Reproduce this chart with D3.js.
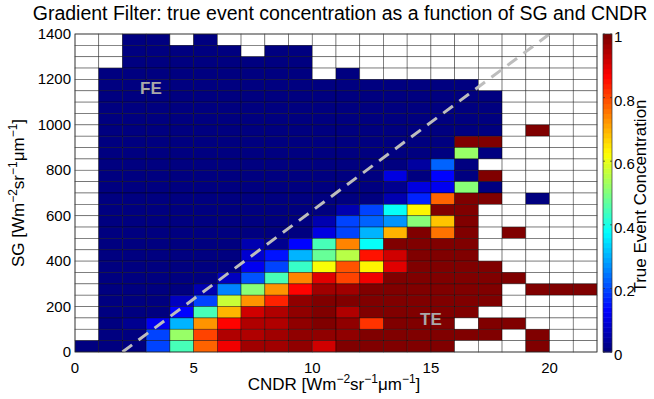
<!DOCTYPE html>
<html>
<head>
<meta charset="utf-8">
<script src="https://cdn.jsdelivr.net/npm/d3@7"></script>
<style>
  body { margin: 0; background: #fff; }
  text { font-family: "Liberation Sans", Arial, sans-serif; fill: #000; }
</style>
</head>
<body>
<div id="chart"></div>
<script>
// CNDR bins (width 1) and SG bins (width 50)
const cndrEdges = d3.range(0, 23);
const sgEdges = d3.range(0, 1450, 50);

const xTicks = [0, 5, 10, 15, 20];
const yTicks = [0, 200, 400, 600, 800, 1000, 1200, 1400];
const cbTicks = [0, 0.2, 0.4, 0.6, 0.8, 1];

// True event concentration, one row per SG bin, top row = 1350-1400
const n = null;
const concRows = [
  [n, n, 0, 0, n, 0, n, n, n, n, n, n, n, n, n, n, n, n, n, n, n, n],
  [n, n, 0, 0, 0, 0, 0, n, 0, 0, n, n, n, n, n, n, n, n, n, n, n, n],
  [n, n, 0, 0, 0, 0, 0, 0, 0, 0, n, n, n, n, n, n, n, n, n, n, n, n],
  [n, 0, 0, 0, 0, 0, 0, 0, 0, 0, n, 0, n, n, n, n, n, n, n, n, n, n],
  [n, 0, 0, 0, 0, 0, 0, 0, 0, 0, 0, 0, 0, 0, 0, 0, 0, n, n, n, n, n],
  [n, 0, 0, 0, 0, 0, 0, 0, 0, 0, 0, 0, 0, 0, 0, 0, 0, 0, n, n, n, n],
  [n, 0, 0, 0, 0, 0, 0, 0, 0, 0, 0, 0, 0, 0, 0, 0, 0, 0, n, n, n, n],
  [n, 0, 0, 0, 0, 0, 0, 0, 0, 0, 0, 0, 0, 0, 0, 0, 0, 0, n, n, n, n],
  [n, 0, 0, 0, 0, 0, 0, 0, 0, 0, 0, 0, 0, 0, 0, 0, 0, 0, n, 1, n, n],
  [n, 0, 0, 0, 0, 0, 0, 0, 0, 0, 0, 0, 0, 0, 0, 0, 1, 1, n, n, n, n],
  [n, 0, 0, 0, 0, 0, 0, 0, 0, 0, 0, 0, 0, 0, 0, 0, .52, 0, n, n, n, n],
  [n, 0, 0, 0, 0, 0, 0, 0, 0, 0, 0, 0, 0, 0, .04, .22, 0, n, n, n, n, n],
  [n, 0, 0, 0, 0, 0, 0, 0, 0, 0, 0, 0, 0, .1, 0, .13, 0, 1, n, n, n, n],
  [n, 0, 0, 0, 0, 0, 0, 0, 0, 0, 0, 0, 0, .03, .1, .12, .5, 0, n, n, n, n],
  [n, 0, 0, 0, 0, 0, 0, 0, 0, 0, 0, 0, 0, .06, .17, .77, 1, 1, n, 0, n, n],
  [n, 0, 0, 0, 0, 0, 0, 0, 0, 0, 0, .06, .2, .38, .63, 1, 1, n, n, n, n, n],
  [n, 0, 0, 0, 0, 0, 0, 0, 0, 0, .06, .19, .22, .27, .5, .68, 1, n, n, n, n, n],
  [n, 0, 0, 0, 0, 0, 0, 0, 0, 0, .1, .2, .31, .69, 1, .75, 1, n, 1, n, n, n],
  [n, 0, 0, 0, 0, 0, 0, .06, .03, .13, .44, .74, .38, 1, 1, 1, 1, n, n, n, n, n],
  [n, 0, 0, 0, 0, 0, 0, .08, .15, .31, .47, .56, .85, .92, 1, 1, 1, n, n, n, n, n],
  [n, 0, 0, 0, 0, 0, 0, .12, .19, .43, .62, .79, .63, .9, 1, 1, 1, 1, n, n, n, n],
  [n, 0, 0, 0, 0, 0, .07, .21, .44, .74, .9, .8, .88, .99, 1, 1, 1, 1, 1, n, n, n],
  [n, 0, 0, 0, 0, .06, .25, .5, .72, .87, .96, .96, .99, .99, 1, 1, 1, 1, n, 1, 1, 1],
  [n, 0, 0, 0, .07, .2, .57, .72, .83, .97, 1, 1, 1, 1, 1, 1, 1, 1, n, n, n, n],
  [n, 0, 0, 0, .13, .44, .69, .92, .94, .97, .99, .94, .99, 1, 1, 1, 1, n, n, n, n, n],
  [n, 0, .02, .12, .31, .72, .86, .94, .94, .97, .99, .97, .82, .99, 1, 1, n, 1, 1, n, n, n],
  [n, 0, 0, .19, .52, .8, .94, .95, .96, .97, .97, .97, .99, 1, 1, 1, 1, 1, n, 1, n, n],
  [0, 0, 0, .2, .44, .78, .89, .96, .96, .97, .92, .99, .99, 1, 1, 1, n, n, n, 1, n, n]
];

// Diagonal separating false events from true events (CNDR, SG)
const splitLine = [[2, 0], [20, 1400]];
const regionLabels = [
  { text: "FE", cndr: 3.2, sg: 1137 },
  { text: "TE", cndr: 15.0, sg: 118 }
];

const width = 654, height = 399;
const plot = { left: 75, right: 597, top: 34, bottom: 352 };

const x = d3.scaleLinear().domain([0, 22]).range([plot.left, plot.right]);
const y = d3.scaleLinear().domain([0, 1400]).range([plot.bottom, plot.top]);

// MATLAB style jet colormap, 64 levels
const jet = v => {
  const q = Math.min(63, Math.floor(v * 64)) / 63;
  const f = c => Math.max(0, Math.min(1, 1.5 - Math.abs(4 * q - c)));
  return d3.rgb(f(3) * 255, f(2) * 255, f(1) * 255).toString();
};

const cells = [];
const nRows = concRows.length;
concRows.forEach((row, i) => {
  const r = nRows - 1 - i;
  row.forEach((v, c) => {
    cells.push({ x0: cndrEdges[c], x1: cndrEdges[c + 1], y0: sgEdges[r], y1: sgEdges[r + 1], v });
  });
});

const svg = d3.select("#chart").append("svg")
  .attr("width", width)
  .attr("height", height);

svg.append("g")
  .selectAll("rect")
  .data(cells)
  .enter()
  .append("rect")
  .attr("x", d => x(d.x0))
  .attr("y", d => y(d.y1))
  .attr("width", d => x(d.x1) - x(d.x0))
  .attr("height", d => y(d.y0) - y(d.y1))
  .attr("fill", d => d.v === null ? "#fff" : jet(d.v))
  .attr("stroke", "#000")
  .attr("stroke-opacity", 0.55)
  .attr("stroke-width", 0.7);

// dashed split line
svg.append("path")
  .attr("d", d3.line().x(d => x(d[0])).y(d => y(d[1]))(splitLine))
  .attr("stroke", "#bdbdbd")
  .attr("stroke-width", 3)
  .attr("stroke-dasharray", "12,8")
  .attr("fill", "none");

svg.selectAll(".region")
  .data(regionLabels)
  .enter()
  .append("text")
  .attr("class", "region")
  .attr("x", d => x(d.cndr))
  .attr("y", d => y(d.sg))
  .attr("text-anchor", "middle")
  .style("font-size", "17px")
  .style("font-weight", "bold")
  .style("fill", "#a9a9a9")
  .text(d => d.text);

// axes
svg.append("rect")
  .attr("x", plot.left).attr("y", plot.top)
  .attr("width", plot.right - plot.left).attr("height", plot.bottom - plot.top)
  .attr("fill", "none").attr("stroke", "#333").attr("stroke-width", 0.7);

svg.selectAll(".xtick")
  .data(xTicks)
  .enter()
  .append("text")
  .attr("x", d => x(d))
  .attr("y", plot.bottom + 21)
  .attr("text-anchor", "middle")
  .style("font-size", "15px")
  .text(d => d);

svg.selectAll(".ytick")
  .data(yTicks)
  .enter()
  .append("text")
  .attr("x", plot.left - 4)
  .attr("y", d => y(d) + 5)
  .attr("text-anchor", "end")
  .style("font-size", "15px")
  .text(d => d);

// unit label with superscripts
const unitLabel = (sel, name) => {
  sel.append("tspan").text(name + " [Wm");
  sel.append("tspan").attr("dy", -7).style("font-size", "12px").text("\u22122");
  sel.append("tspan").attr("dy", 7).text("sr");
  sel.append("tspan").attr("dy", -7).style("font-size", "12px").text("\u22121");
  sel.append("tspan").attr("dy", 7).text("\u03bcm");
  sel.append("tspan").attr("dy", -7).style("font-size", "12px").text("\u22121");
  sel.append("tspan").attr("dy", 7).text("]");
};

svg.append("text")
  .attr("x", 334)
  .attr("y", 390)
  .attr("text-anchor", "middle")
  .style("font-size", "17px")
  .call(unitLabel, "CNDR");

svg.append("text")
  .attr("transform", `translate(24,${(plot.top + plot.bottom) / 2}) rotate(-90)`)
  .attr("text-anchor", "middle")
  .style("font-size", "17px")
  .call(unitLabel, "SG");

svg.append("text")
  .attr("x", 340)
  .attr("y", 20)
  .attr("text-anchor", "middle")
  .style("font-size", "19.5px")
  .text("Gradient Filter: true event concentration as a function of SG and CNDR");

// colorbar
const cb = { left: 603, width: 9 };
const cbY = d3.scaleLinear().domain([0, 1]).range([plot.bottom, plot.top]);
const levels = d3.range(64).map(i => i / 64);

svg.append("g")
  .selectAll("rect")
  .data(levels)
  .enter()
  .append("rect")
  .attr("x", cb.left)
  .attr("y", d => cbY(d + 1 / 64))
  .attr("width", cb.width)
  .attr("height", d => cbY(d) - cbY(d + 1 / 64) + 0.5)
  .attr("fill", d => jet(d + 0.5 / 64));

svg.append("rect")
  .attr("x", cb.left).attr("y", plot.top)
  .attr("width", cb.width).attr("height", plot.bottom - plot.top)
  .attr("fill", "none").attr("stroke", "#333").attr("stroke-width", 0.7);

const cbTick = svg.append("g").selectAll("g")
  .data(cbTicks)
  .enter()
  .append("g");

cbTick.append("line")
  .attr("x1", cb.left).attr("x2", cb.left + 2)
  .attr("y1", d => cbY(d)).attr("y2", d => cbY(d))
  .attr("stroke", "#333").attr("stroke-width", 0.7);

cbTick.append("line")
  .attr("x1", cb.left + cb.width - 2).attr("x2", cb.left + cb.width)
  .attr("y1", d => cbY(d)).attr("y2", d => cbY(d))
  .attr("stroke", "#333").attr("stroke-width", 0.7);

cbTick.append("text")
  .attr("x", cb.left + cb.width + 2)
  .attr("y", d => cbY(d) + 8)
  .style("font-size", "15px")
  .text(d => d);

svg.append("text")
  .attr("transform", `translate(646,${(plot.top + plot.bottom) / 2 + 3}) rotate(-90)`)
  .attr("text-anchor", "middle")
  .style("font-size", "17px")
  .text("True Event Concentration");
</script>
</body>
</html>
